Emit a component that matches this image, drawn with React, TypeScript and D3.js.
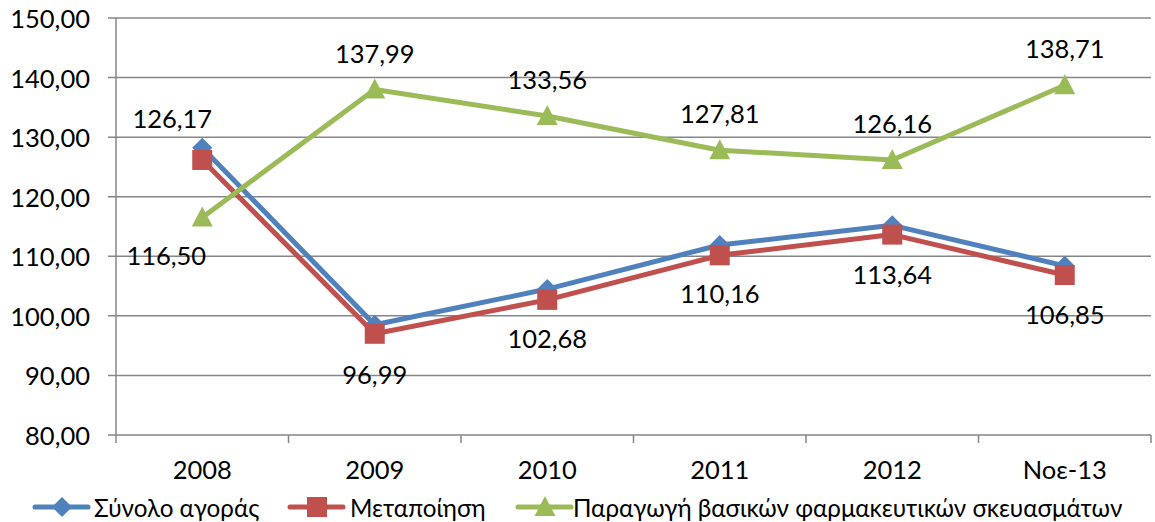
import React from "react";
import * as d3 from "d3";

const categories = ["2008", "2009", "2010", "2011", "2012", "Νοε-13"];
const totalMarket = [128.2, 98.5, 104.5, 111.9, 115.2, 108.4];
const manufacturing = [126.17, 96.99, 102.68, 110.16, 113.64, 106.85];
const pharma = [116.5, 137.99, 133.56, 127.81, 126.16, 138.71];
const yTicks = [80, 90, 100, 110, 120, 130, 140, 150];

const seriesNames = ["Σύνολο αγοράς", "Μεταποίηση", "Παραγωγή βασικών φαρμακευτικών σκευασμάτων"];
const colors = ["#4F81BD", "#C0504D", "#9BBB59"];

// label placement offsets (dx, dy) relative to point
const manufLabelOffsets: [number, number][] = [[-30, -42], [0, 40], [0, 38], [0, 38], [0, 39], [0, 39]];
const pharmaLabelOffsets: [number, number][] = [[-36, 37], [0, -37], [0, -37], [0, -37], [0, -37], [0, -37]];

const W = 1155, H = 522;
const left = 116, right = 1151, top = 18, bottom = 435;
const FONT = "Lato, 'Open Sans', sans-serif";
const FS = 25.5;
const LFS = 24.2;

const fmt = (v: number) => v.toFixed(2).replace(".", ",");

export default function App() {
  const x = d3.scaleBand<string>().domain(categories).range([left, right]);
  const y = d3.scaleLinear().domain([80, 150]).range([bottom, top]);
  const cx = (c: string) => (x(c) as number) + x.bandwidth() / 2;
  const line = d3.line<number>().x((_, i) => cx(categories[i])).y((v) => y(v));
  const allSeries = [totalMarket, manufacturing, pharma];

  const marker = (s: number, px: number, py: number, key: string) => {
    if (s === 0) {
      const r = 10;
      return <path key={key} d={`M${px},${py - r}L${px + r},${py}L${px},${py + r}L${px - r},${py}Z`} fill={colors[0]} />;
    } else if (s === 1) {
      return <rect key={key} x={px - 10} y={py - 10} width={20} height={20} fill={colors[1]} />;
    }
    return <path key={key} d={`M${px},${py - 11}L${px + 10.5},${py + 9}L${px - 10.5},${py + 9}Z`} fill={colors[2]} />;
  };

  const legendItems = [
    { lineX: 35, textX: 94 },
    { lineX: 290, textX: 350 },
    { lineX: 518, textX: 573 },
  ];
  const legendY = 507;

  return (
    <svg width={W} height={H} style={{ position: "absolute", left: 0, top: 0, background: "#fff" }} fontFamily={FONT}>
      {yTicks.map((t) => (
        <g key={t}>
          <line x1={left - 8} x2={right} y1={y(t)} y2={y(t)} stroke="#868686" strokeWidth={1.5} />
          <text x={90} y={y(t)} textAnchor="end" dominantBaseline="central" fontSize={FS} fill="#000">{fmt(t)}</text>
        </g>
      ))}
      <line x1={left} x2={left} y1={top} y2={bottom} stroke="#868686" strokeWidth={1.5} />
      {categories.map((c, i) => (
        <line key={"xt" + i} x1={x(c) as number} x2={x(c) as number} y1={bottom} y2={bottom + 8} stroke="#868686" strokeWidth={1.5} />
      ))}
      <line x1={right} x2={right} y1={bottom} y2={bottom + 8} stroke="#868686" strokeWidth={1.5} />
      {categories.map((c) => (
        <text key={"xl" + c} x={cx(c)} y={469} textAnchor="middle" dominantBaseline="central" fontSize={FS} fill="#000">{c}</text>
      ))}
      {allSeries.map((vals, s) => (
        <g key={"s" + s}>
          <path d={line(vals) || ""} fill="none" stroke={colors[s]} strokeWidth={5} strokeLinejoin="round" />
          {vals.map((v, i) => marker(s, cx(categories[i]), y(v), `m${s}-${i}`))}
        </g>
      ))}
      {manufacturing.map((v, i) => (
        <text key={"lm" + i} x={cx(categories[i]) + manufLabelOffsets[i][0]} y={y(v) + manufLabelOffsets[i][1]} textAnchor="middle" dominantBaseline="central" fontSize={FS} fill="#000">{fmt(v)}</text>
      ))}
      {pharma.map((v, i) => (
        <text key={"lp" + i} x={cx(categories[i]) + pharmaLabelOffsets[i][0]} y={y(v) + pharmaLabelOffsets[i][1]} textAnchor="middle" dominantBaseline="central" fontSize={FS} fill="#000">{fmt(v)}</text>
      ))}
      {seriesNames.map((n, s) => {
        const it = legendItems[s];
        return (
          <g key={"lg" + s}>
            <line x1={it.lineX} x2={it.lineX + 53} y1={legendY} y2={legendY} stroke={colors[s]} strokeWidth={5} strokeLinecap="round" />
            {marker(s, it.lineX + 27, legendY, "lgm" + s)}
            <text x={it.textX} y={legendY} dominantBaseline="central" fontSize={LFS} fill="#000">{n}</text>
          </g>
        );
      })}
    </svg>
  );
}
